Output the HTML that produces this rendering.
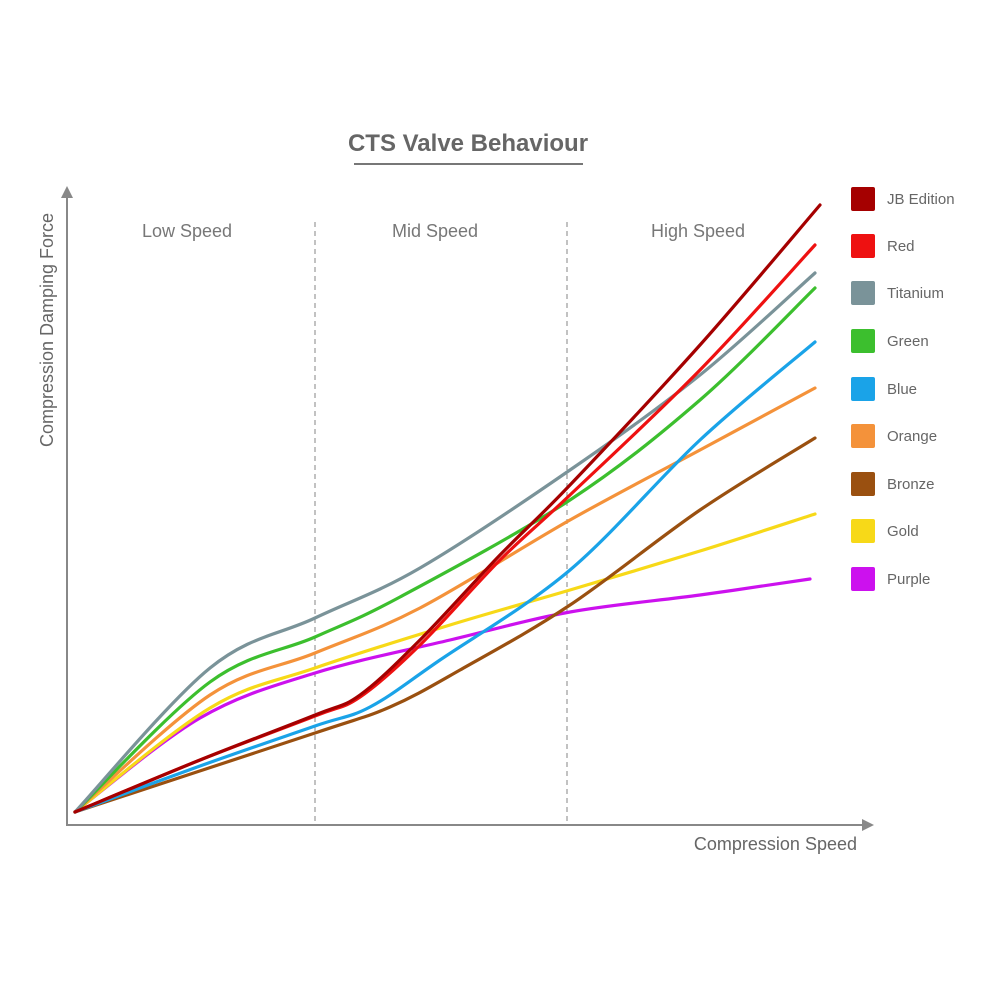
<!DOCTYPE html>
<html><head><meta charset="utf-8"><style>
html,body{margin:0;padding:0;background:#fff;}
svg{display:block;}
text{font-family:"Liberation Sans",sans-serif;}
</style></head><body>
<svg id="s" width="986" height="983" viewBox="0 0 986 983" xmlns="http://www.w3.org/2000/svg">
<rect width="986" height="983" fill="#fff"/>
<text x="468" y="151" text-anchor="middle" font-size="24" font-weight="bold" fill="#666">CTS Valve Behaviour</text>
<line x1="354" y1="164" x2="583" y2="164" stroke="#777" stroke-width="2"/>
<line x1="67" y1="826" x2="67" y2="196" stroke="#888" stroke-width="2"/>
<polygon points="61,198 73,198 67,186" fill="#888"/>
<line x1="66" y1="825" x2="864" y2="825" stroke="#888" stroke-width="2"/>
<polygon points="862,819 862,831 874,825" fill="#888"/>
<line x1="315" y1="222" x2="315" y2="822" stroke="#999" stroke-width="1.2" stroke-dasharray="5,4"/>
<line x1="567" y1="222" x2="567" y2="822" stroke="#999" stroke-width="1.2" stroke-dasharray="5,4"/>
<text x="187" y="237" text-anchor="middle" font-size="18" fill="#777">Low Speed</text>
<text x="435" y="237" text-anchor="middle" font-size="18" fill="#777">Mid Speed</text>
<text x="698" y="237" text-anchor="middle" font-size="18" fill="#777">High Speed</text>
<text transform="translate(53,330) rotate(-90)" text-anchor="middle" font-size="18" fill="#666">Compression Damping Force</text>
<text x="857" y="850" text-anchor="end" font-size="18" fill="#666">Compression Speed</text>
<g id="curves" fill="none" stroke-width="3.2" stroke-linecap="round"></g>
<g id="leg" font-size="15" fill="#666"></g>
</svg>
<script>
var S=[
["Purple","#cc11ee",[[75,812],[200,718],[315,673],[450,640],[570,612],[700,595],[810,579]]],
["Gold","#f7d918",[[75,812],[210,708],[315,668],[450,625],[570,590],[700,551],[815,514]]],
["Bronze","#9a5010",[[75,812],[315,733],[390,707],[460,670],[570,605],[700,510],[815,438]]],
["Orange","#f4923a",[[75,812],[210,695],[315,653],[420,608],[570,520],[700,450],[815,388]]],
["Blue","#1aa3e8",[[75,812],[200,766],[315,726],[370,707],[440,660],[570,570],[700,440],[815,342]]],
["Green","#3cbf2e",[[75,812],[210,682],[315,637],[400,597],[570,500],[700,400],[815,288]]],
["Titanium","#7a9399",[[75,812],[210,668],[315,618],[420,568],[570,470],[700,375],[815,273]]],
["Red","#ee1111",[[75,812],[200,760],[315,716],[360,697],[420,645],[500,560],[570,495],[700,370],[815,245]]],
["JB Edition","#a50000",[[75,812],[200,760],[315,715],[360,695],[420,640],[500,555],[570,485],[700,345],[820,205]]]
];
function path(p){var d="M"+p[0][0]+","+p[0][1];for(var i=0;i<p.length-1;i++){var a=p[i-1]||p[i],b=p[i],c=p[i+1],e=p[i+2]||c;
d+=" C"+(b[0]+(c[0]-a[0])/6)+","+(b[1]+(c[1]-a[1])/6)+" "+(c[0]-(e[0]-b[0])/6)+","+(c[1]-(e[1]-b[1])/6)+" "+c[0]+","+c[1];}return d;}
var g=document.getElementById("curves"),L=document.getElementById("leg"),ns="http://www.w3.org/2000/svg";
S.forEach(function(s){var el=document.createElementNS(ns,"path");el.setAttribute("d",path(s[2]));el.setAttribute("stroke",s[1]);g.appendChild(el);});
var ys=[199,246,293,341,389,436,484,531,579];
S.slice().reverse().forEach(function(s,i){var r=document.createElementNS(ns,"rect");r.setAttribute("x",851);r.setAttribute("y",ys[i]-12);r.setAttribute("width",24);r.setAttribute("height",24);r.setAttribute("rx",2);r.setAttribute("fill",s[1]);L.appendChild(r);
var t=document.createElementNS(ns,"text");t.setAttribute("x",887);t.setAttribute("y",ys[i]+5);t.textContent=s[0];L.appendChild(t);});
</script>
</body></html>
